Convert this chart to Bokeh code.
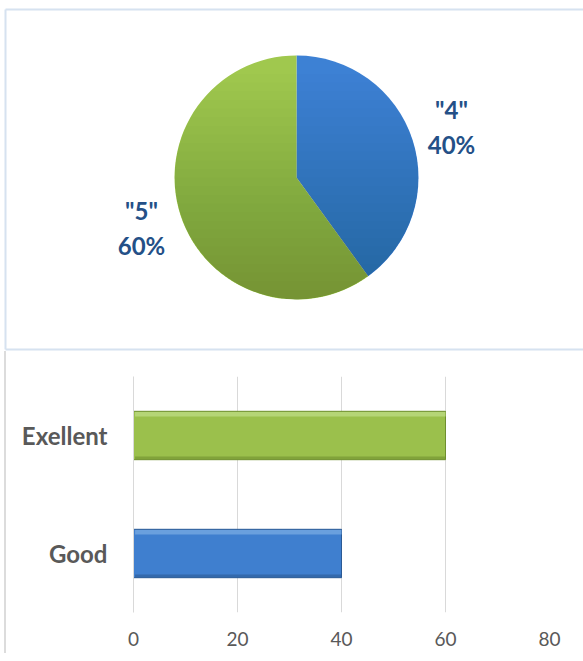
import math
import numpy as np
from bokeh.plotting import figure
from bokeh.models import Range1d, FactorRange, FixedTicker, ColumnDataSource
from bokeh.embed import file_html
from bokeh.resources import INLINE
from bokeh.core.properties import value
from bokeh.transform import dodge

# ---------------- data ----------------
pie_names = ['"4"', '"5"']
pie_values = [40, 60]
pie_colors = ["#3d81d4", "#a0c84e"]

bar_categories = ["Good", "Exellent"]
bar_values = [40, 60]
bar_colors = ["#3f7fcf", "#9bc04c"]
bar_edge_colors = ["#2b5a95", "#6f8f2f"]
bar_light_colors = ["#6aa0de", "#b5d576"]
x_ticks = [0, 20, 40, 60, 80]

FONT = "Lato"

# ---------------- pie panel ----------------
W = 583
H1 = 351
p1 = figure(frame_width=W, frame_height=H1, x_range=Range1d(0, W), y_range=Range1d(0, H1),
            output_backend="svg", toolbar_location=None, min_border=0)
p1.axis.visible = False
p1.grid.visible = False
p1.outline_line_color = None

cx, cy, r = 296, 174, 122
total = sum(pie_values)
starts, ends, lx, ly, pct = [], [], [], [], []
cum = 0.0
for v in pie_values:
    a0 = math.pi / 2 - 2 * math.pi * cum / total
    a1 = math.pi / 2 - 2 * math.pi * (cum + v) / total
    mid = (a0 + a1) / 2
    starts.append(a0)
    ends.append(a1)
    lx.append(cx + 163 * math.cos(mid))
    ly.append(cy + 163 * math.sin(mid))
    pct.append(f"{round(100 * v / total)}%")
    cum += v

src = ColumnDataSource(dict(start=starts, end=ends, color=pie_colors,
                            name=pie_names, pct=pct, lx=lx,
                            ly_top=[y + 17.5 for y in ly], ly_bot=[y - 17.5 for y in ly]))
p1.wedge(x=cx, y=cy, radius=r, start_angle="start", end_angle="end",
         direction="clock", fill_color="color", line_color=None, source=src)

# vertical shading (darker towards the bottom) made of stacked circular segments
seg_xs, seg_ys = [], []
for s in np.linspace(0.85, -0.92, 26):
    phi = math.asin(s)
    th = np.linspace(math.pi - phi, 2 * math.pi + phi, 90)
    seg_xs.append(list(cx + r * np.cos(th)))
    seg_ys.append(list(cy + r * np.sin(th)))
p1.patches(xs=seg_xs, ys=seg_ys, fill_color="black", fill_alpha=0.0085, line_color=None)

for col in ("ly_top", "ly_bot"):
    p1.text(x="lx", y=col, text="name" if col == "ly_top" else "pct", source=src,
            text_align="center", text_baseline="middle",
            text_font=value(FONT), text_font_style="bold",
            text_font_size="24px", text_color="#245087")

# panel border (left, top, bottom)
p1.multi_line(xs=[[5, 5], [5, W], [5, W]], ys=[[2, H1 - 9], [H1 - 9, H1 - 9], [2, 2]],
              line_color="#d6e2f0", line_width=2)

# ---------------- bar panel ----------------
p2 = figure(frame_width=416, frame_height=236,
            y_range=FactorRange(*bar_categories), x_range=Range1d(0, 80),
            output_backend="svg", toolbar_location=None,
            min_border_left=127, min_border_right=34,
            min_border_top=25, min_border_bottom=41)
p2.outline_line_color = None
p2.styles = {"margin-left": "4px", "border-left": "2px solid #dcdcdc"}

bsrc = ColumnDataSource(dict(cat=bar_categories, val=bar_values, color=bar_colors,
                             edge=bar_edge_colors, light=bar_light_colors))
p2.hbar(y="cat", left=0, right="val", height=0.41, fill_color="color",
        line_color="edge", line_width=1, source=bsrc)
p2.hbar(y=dodge("cat", 0.18, range=p2.y_range), left=0.3, right="val", height=0.04,
        fill_color="light", line_color=None, source=bsrc)
p2.hbar(y=dodge("cat", -0.19, range=p2.y_range), left=0.3, right="val", height=0.025,
        fill_color="edge", fill_alpha=0.6, line_color=None, source=bsrc)

p2.xaxis.ticker = FixedTicker(ticks=x_ticks)
p2.xgrid.ticker = FixedTicker(ticks=x_ticks)
p2.xgrid.grid_line_color = "#d9d9d9"
p2.ygrid.grid_line_color = None

p2.xaxis.axis_line_color = None
p2.xaxis.major_tick_line_color = None
p2.xaxis.minor_tick_line_color = None
p2.xaxis.major_label_standoff = 13
p2.xaxis.major_label_text_font = FONT
p2.xaxis.major_label_text_font_size = "19px"
p2.xaxis.major_label_text_color = "#595959"

p2.yaxis.axis_line_color = "#d9d9d9"
p2.yaxis.major_tick_line_color = None
p2.yaxis.minor_tick_line_color = None
p2.yaxis.major_label_standoff = 20
p2.yaxis.major_label_text_font = FONT
p2.yaxis.major_label_text_font_style = "bold"
p2.yaxis.major_label_text_font_size = "24px"
p2.yaxis.major_label_text_color = "#595959"

open("out.html", "w").write(file_html([p1, p2], INLINE))
